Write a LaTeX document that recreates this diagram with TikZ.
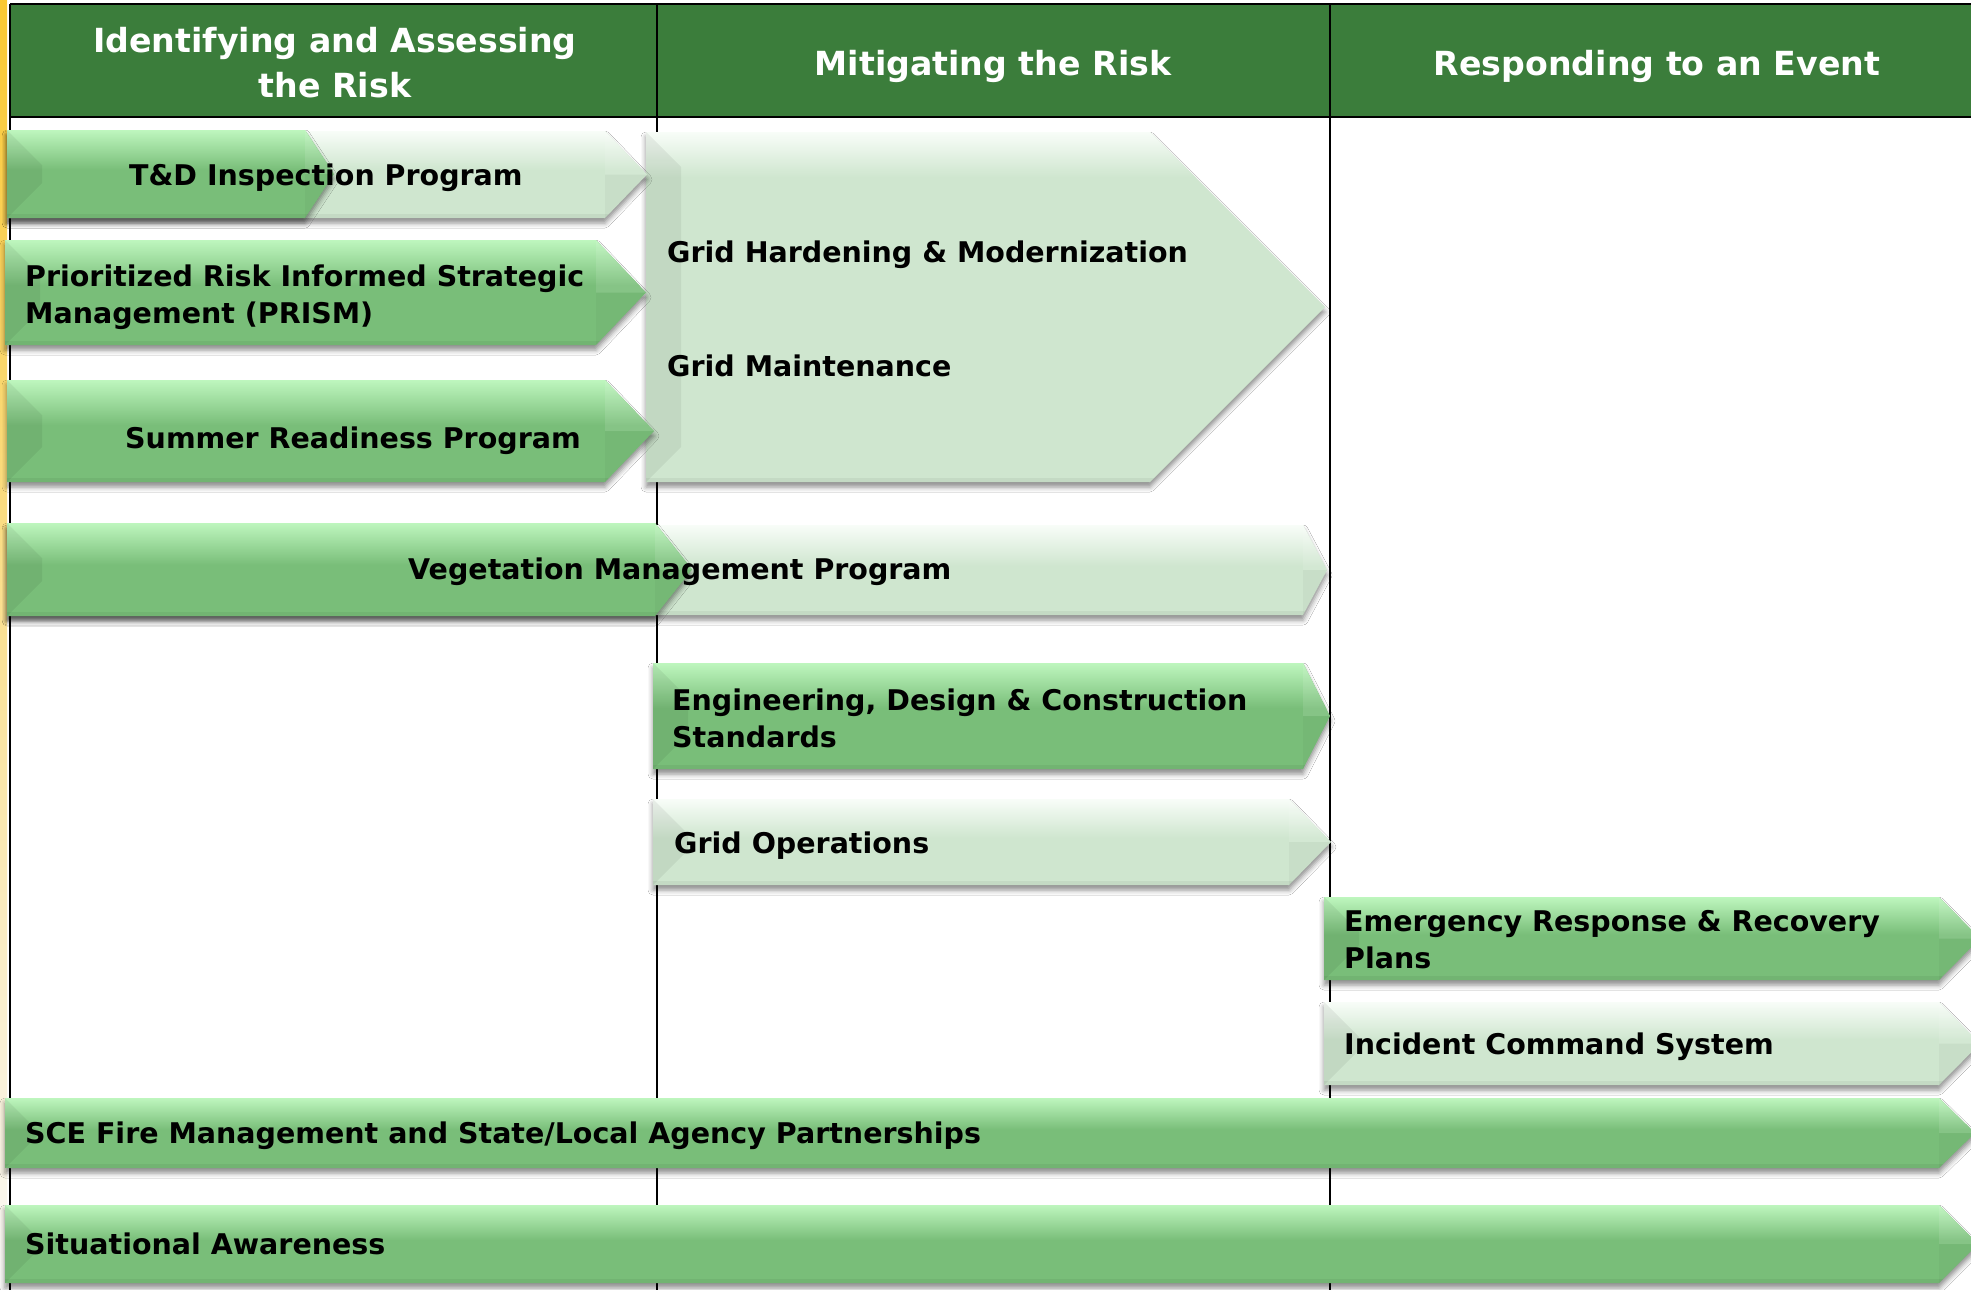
\documentclass[tikz,border=0pt]{standalone}
\usepackage{fontspec}
\setmainfont{DejaVu Sans}
\usetikzlibrary{shadows.blur}
\definecolor{hdrgreen}{RGB}{59,125,59}
\definecolor{dkmain}{RGB}{121,190,121}
\definecolor{dktop}{RGB}{190,246,190}
\definecolor{ltmain}{RGB}{207,230,207}
\definecolor{lttop}{RGB}{248,253,248}
\definecolor{goldstrip}{RGB}{250,200,50}
\definecolor{creamstrip}{RGB}{255,244,215}
\newcommand\lblfont{\fontsize{28.5}{36.5}\selectfont\bfseries}
\newcommand\hdrfont{\fontsize{33.2}{45}\selectfont\bfseries}
% #1 left x, #2 top y, #3 body end x, #4 tip x, #5 bottom y, #6 colour prefix (dk/lt)
\newcommand\garrowbody[6]{%
  \pgfmathsetmacro\gym{(#2+#5)/2}%
  \pgfmathsetmacro\gbev{min(0.45*(#5-#2),35)}%
  \pgfmathsetmacro\gband{min(0.45*(#5-#2),45)}%
  \fill[#6main, blur shadow={shadow xshift=0pt, shadow yshift=-5pt, shadow blur radius=5pt, shadow opacity=45}]
    (#1,#2) -- (#3,#2) -- (#4,\gym) -- (#3,#5) -- (#1,#5) -- cycle;
  \clip (#1,#2) -- (#3,#2) -- (#4,\gym) -- (#3,#5) -- (#1,#5) -- cycle;
  \shade[top color=#6top, bottom color=#6main] (#1,#2) rectangle (#4,{#2+\gband});
  \fill[black,opacity=0.06] (#1,#2) -- ({#1+\gbev},{#2+\gbev}) -- ({#1+\gbev},{#5-\gbev}) -- (#1,#5) -- cycle;
  \fill[black,opacity=0.05] (#1,{#5-4}) rectangle (#4,#5);}
\newcommand\garrow[6]{%
  \begin{scope}
    \garrowbody{#1}{#2}{#3}{#4}{#5}{#6}
    \fill[black,opacity=0.03] (#3,\gym) -- (#4,\gym) -- (#3,#5) -- cycle;
    \fill[white,opacity=0.10] (#3,#2) -- (#4,\gym) -- (#3,\gym) -- cycle;
  \end{scope}}
\newcommand\garrowplain[6]{%
  \begin{scope}
    \garrowbody{#1}{#2}{#3}{#4}{#5}{#6}
  \end{scope}}
\begin{document}
\begin{tikzpicture}[x=1pt,y=-1pt,
  lbl/.style={inner sep=0pt, anchor=base west, font=\lblfont, text=black, align=left},
  hdr/.style={inner sep=0pt, anchor=base, font=\hdrfont, text=white, align=center},
  rule/.style={draw=black, line width=2.5pt}]
\useasboundingbox (0,0) rectangle (1971,1290);
\clip (0,0) rectangle (1971,1290);
\fill[white] (0,0) rectangle (1971,1290);
% left gold strip
\shade[top color=goldstrip, middle color=creamstrip, bottom color=white!96!gray] (0,0) rectangle (7,1290);
% header
\fill[hdrgreen] (10,4) rectangle (1971,117);
\draw[rule] (10,4) -- (1971,4);
\draw[rule] (10,117) -- (1971,117);
\coordinate (c0t) at (10,4);   \coordinate (c0b) at (10,1290);
\coordinate (c1t) at (657,4);  \coordinate (c1b) at (657,1290);
\coordinate (c2t) at (1330,4); \coordinate (c2b) at (1330,1290);
\draw[rule] (c0t) -- (c0b);
\draw[rule] (c1t) -- (c1b);
\draw[rule] (c2t) -- (c2b);
% arrows
\garrowplain{646}{132}{1150}{1325}{482}{lt}
\garrow{7}{131}{605}{647}{218}{lt}
\garrow{7}{130}{305}{334}{218}{dk}
\garrow{5}{240}{596}{646}{345}{dk}
\garrow{7}{380}{605}{654}{482}{dk}
\garrow{7}{525}{1303}{1327}{615}{lt}
\garrow{7}{523}{655}{692}{616}{dk}
\garrow{653}{663}{1303}{1330}{769}{dk}
\garrow{653}{799}{1289}{1331}{885}{lt}
\garrow{1324}{897}{1939}{1980}{980}{dk}
\garrow{1324}{1002}{1939}{1980}{1085}{lt}
\garrow{5}{1098}{1939}{1975}{1168}{dk}
\garrow{5}{1205}{1939}{1978}{1283}{dk}
% header texts (base = last line)
\node[hdr] (h1) at (335,97) {Identifying and Assessing\\the Risk};
\node[hdr] (h2) at (993,75) {Mitigating the Risk};
\node[hdr] (h3) at (1657,75) {Responding to an Event};
% labels (base = last line)
\node[lbl] (td) at (129,185) {T\&D Inspection Program};
\node[lbl] (prism) at (25,323) {Prioritized Risk Informed Strategic\\Management (PRISM)};
\node[lbl] (summer) at (125,448) {Summer Readiness Program};
\node[lbl] (hard) at (667,262) {Grid Hardening \& Modernization};
\node[lbl] (maint) at (667,376) {Grid Maintenance};
\node[lbl] (veg) at (408,579) {Vegetation Management Program};
\node[lbl] (eng) at (672,747) {Engineering, Design \& Construction\\Standards};
\node[lbl] (ops) at (674,853) {Grid Operations};
\node[lbl] (emer) at (1344,968) {Emergency Response \& Recovery\\Plans};
\node[lbl] (ics) at (1344,1054) {Incident Command System};
\node[lbl] (sce) at (25,1143) {SCE Fire Management and State/Local Agency Partnerships};
\node[lbl] (sit) at (25,1254) {Situational Awareness};
\end{tikzpicture}
\end{document}
